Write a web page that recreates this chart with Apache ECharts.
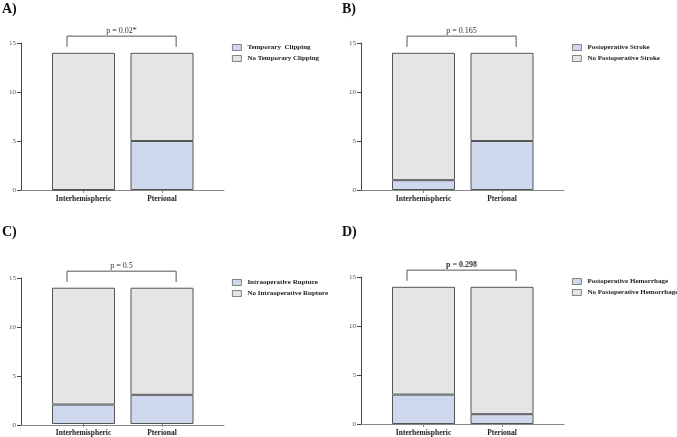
<!DOCTYPE html>
<html>
<head>
<meta charset="utf-8">
<script src="https://cdn.jsdelivr.net/npm/echarts@6/dist/echarts.min.js"></script>
<style>html,body{margin:0;padding:0;background:#fff}#c{width:677px;height:437px}</style>
</head>
<body>
<div id="c"></div>
<script>
var categories = ['Interhemispheric', 'Pterional'];
var panelLabels = ['A)', 'B)', 'C)', 'D)'];
var eventNames = ['Temporary  Clipping', 'Postoperative Stroke', 'Intraoperative Rupture', 'Postoperative Hemorrhage'];
var noEventNames = ['No Temporary Clipping', 'No Postoperative Stroke', 'No Intraoperative Rupture', 'No Postoperative Hemorrhage'];
var eventCounts = [[0, 5], [1, 5], [2, 3], [3, 1]];
var noEventCounts = [[14, 9], [13, 9], [12, 11], [11, 13]];
var pTexts = ['p = 0.02*', 'p = 0.165', 'p = 0.5', 'p = 0.298'];
var pBold = [false, false, false, true];

var SERIF = '"Liberation Serif","DejaVu Serif",serif';
var gridPos = [[21, 43], [361, 43], [21, 278], [361, 277]];
var grids = [], xAxes = [], yAxes = [], series = [], legends = [], titles = [];

for (var i = 0; i < 4; i++) {
  var gx = gridPos[i][0], gy = gridPos[i][1];
  grids.push({left: gx, top: gy, width: 203, height: 147});
  grids.push({left: gx + 23.25, top: gy, width: 157, height: 147});
  xAxes.push({
    type: 'value', gridIndex: 2 * i, min: 0, max: 1,
    splitLine: {show: false},
    axisLine: {show: true, lineStyle: {color: '#888', width: 1}},
    axisTick: {show: false}, axisLabel: {show: false}
  });
  xAxes.push({
    type: 'category', gridIndex: 2 * i + 1, data: categories,
    axisLine: {show: false},
    axisTick: {show: true, alignWithLabel: true, length: 3, lineStyle: {color: '#888'}},
    axisLabel: {fontFamily: SERIF, fontSize: 7.5, fontWeight: 'bold', color: '#222', margin: 5}
  });
  yAxes.push({
    type: 'value', gridIndex: 2 * i, min: 0, max: 15, interval: 5,
    splitLine: {show: false},
    axisLine: {show: true, lineStyle: {color: '#444', width: 1}},
    axisTick: {show: true, length: 4, lineStyle: {color: '#444'}},
    axisLabel: {fontFamily: SERIF, fontSize: 7, color: '#555', margin: 5}
  });
  yAxes.push({
    type: 'value', gridIndex: 2 * i + 1, min: 0, max: 15, interval: 5, show: false
  });
  series.push({
    name: eventNames[i], type: 'bar', xAxisIndex: 2 * i + 1, yAxisIndex: 2 * i + 1, stack: 's' + i,
    barWidth: 63, data: eventCounts[i],
    itemStyle: {color: '#cfd9ee', borderColor: '#555', borderWidth: 1},
    emphasis: {disabled: true}
  });
  series.push({
    name: noEventNames[i], type: 'bar', xAxisIndex: 2 * i + 1, yAxisIndex: 2 * i + 1, stack: 's' + i,
    barWidth: 63, data: noEventCounts[i],
    itemStyle: {color: '#e5e5e5', borderColor: '#555', borderWidth: 1},
    emphasis: {disabled: true}
  });
  (function (idx) {
    series.push({
      type: 'custom', xAxisIndex: 2 * idx + 1, yAxisIndex: 2 * idx + 1, silent: true, clip: false,
      data: [[0, 15]],
      renderItem: function (params, api) {
        var bw = api.size([1, 0])[0];
        var c0 = api.coord([0, 14.6]);
        var c1 = api.coord([1, 14.6]);
        var top = api.coord([0, 15.7])[1];
        var ty = api.coord([0, 16.25])[1];
        var xl = c0[0] - 0.21 * bw, xr = c1[0] + 0.18 * bw;
        return {
          type: 'group',
          children: [
            {type: 'polyline', shape: {points: [[xl, c0[1]], [xl, top], [xr, top], [xr, c1[1]]]},
              style: {stroke: '#555', lineWidth: 1, fill: null}},
            {type: 'text', x: (xl + xr) / 2, y: ty,
              style: {text: pTexts[idx], fontFamily: SERIF, fontSize: 8,
                fontWeight: pBold[idx] ? 'bold' : 'normal', fill: '#333',
                align: 'center', verticalAlign: 'middle'}}
          ]
        };
      }
    });
  })(i);
  legends.push({
    data: [eventNames[i], noEventNames[i]], orient: 'vertical',
    left: gx + 211, top: gy + 1, padding: 0, icon: 'rect',
    itemWidth: 9, itemHeight: 6, itemGap: 4,
    itemStyle: {borderColor: '#666', borderWidth: 0.8},
    textStyle: {fontFamily: SERIF, fontSize: 7, fontWeight: 'bold', color: '#222', padding: [0, 0, 0, 1]},
    selectedMode: false
  });
  titles.push({text: panelLabels[i], left: gx - 19, top: (i < 2 ? 2 : 225), padding: 0,
    textStyle: {fontFamily: SERIF, fontSize: 14, fontWeight: 'bold', color: '#111'}});
}

var chart = echarts.init(document.getElementById('c'), null, {renderer: 'canvas'});
chart.setOption({
  animation: false,
  backgroundColor: '#fff',
  title: titles,
  grid: grids, xAxis: xAxes, yAxis: yAxes,
  legend: legends,
  series: series
});
</script>
</body>
</html>
